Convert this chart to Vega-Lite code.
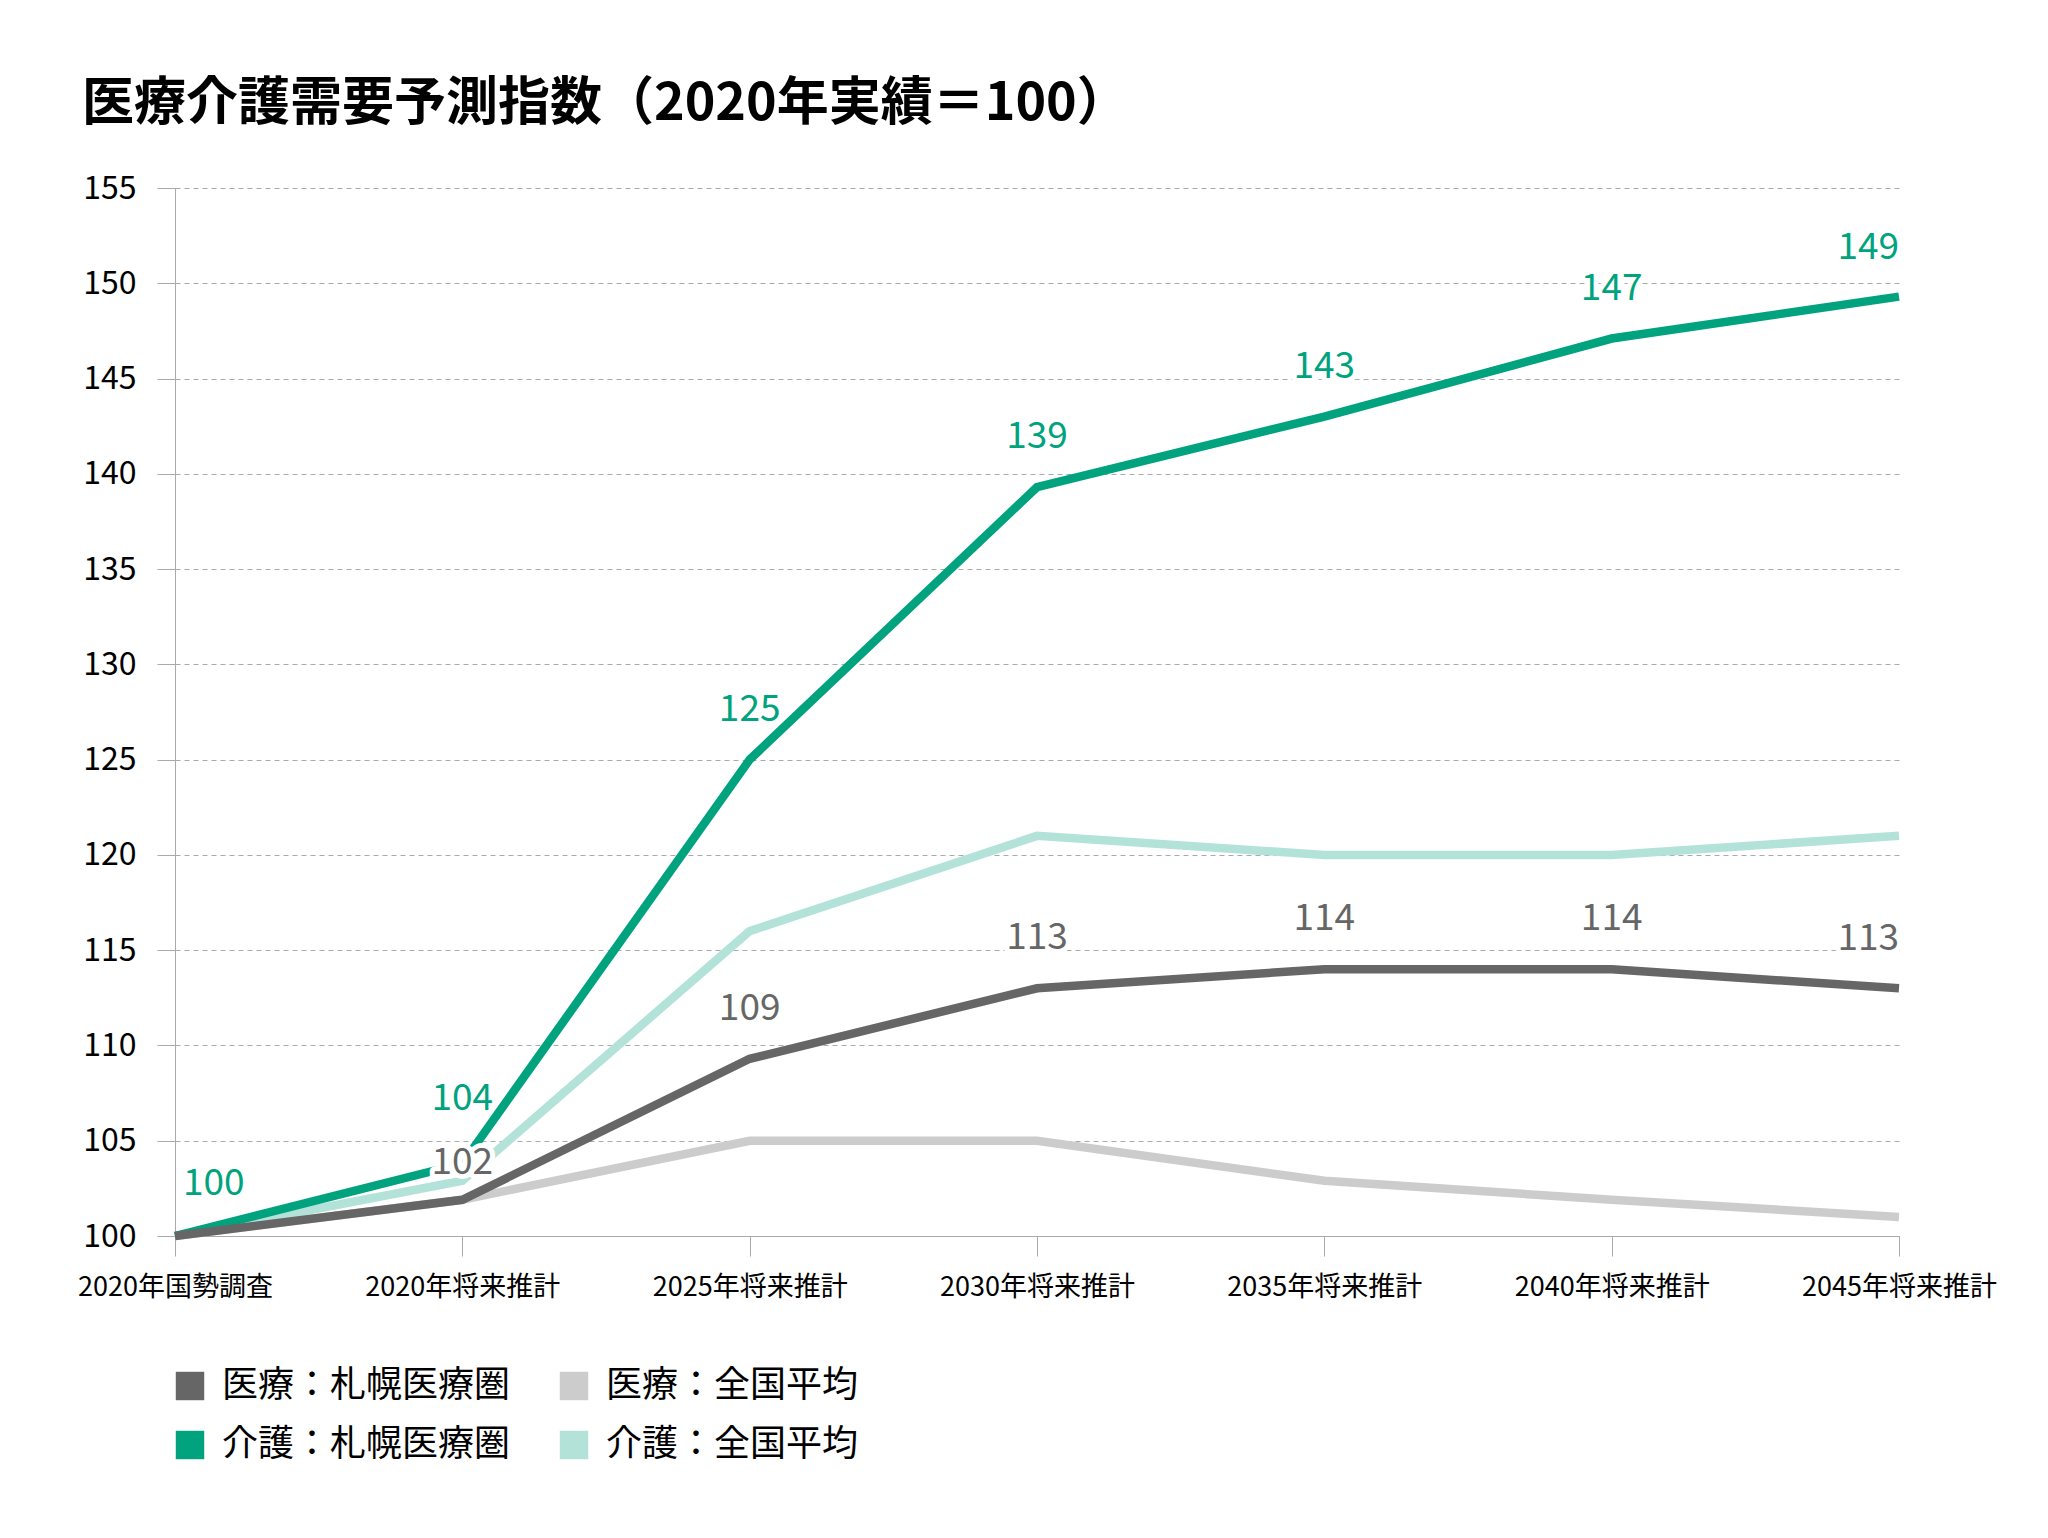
{
  "$schema": "https://vega.github.io/schema/vega-lite/v6.json",
  "width": 1724,
  "height": 1048,
  "autosize": "none",
  "padding": {"left": 175, "top": 188, "right": 149, "bottom": 302},
  "background": "white",
  "title": {
    "text": "医療介護需要予測指数（2020年実績＝100）",
    "anchor": "start",
    "frame": "group",
    "dx": -93,
    "offset": 41,
    "fontSize": 52,
    "fontWeight": "bold",
    "color": "#000000",
    "font": "Noto Sans CJK JP"
  },
  "data": {
    "values": [
      {"s": "医療：全国平均", "x": "2020年国勢調査", "v": 100},
      {"s": "医療：全国平均", "x": "2020年将来推計", "v": 101.9},
      {"s": "医療：全国平均", "x": "2025年将来推計", "v": 105},
      {"s": "医療：全国平均", "x": "2030年将来推計", "v": 105},
      {"s": "医療：全国平均", "x": "2035年将来推計", "v": 102.9},
      {"s": "医療：全国平均", "x": "2040年将来推計", "v": 101.9},
      {"s": "医療：全国平均", "x": "2045年将来推計", "v": 101},
      {"s": "介護：全国平均", "x": "2020年国勢調査", "v": 100},
      {"s": "介護：全国平均", "x": "2020年将来推計", "v": 102.9},
      {"s": "介護：全国平均", "x": "2025年将来推計", "v": 116},
      {"s": "介護：全国平均", "x": "2030年将来推計", "v": 121},
      {"s": "介護：全国平均", "x": "2035年将来推計", "v": 120},
      {"s": "介護：全国平均", "x": "2040年将来推計", "v": 120},
      {"s": "介護：全国平均", "x": "2045年将来推計", "v": 121},
      {"s": "介護：札幌医療圏", "x": "2020年国勢調査", "v": 100},
      {"s": "介護：札幌医療圏", "x": "2020年将来推計", "v": 103.8},
      {"s": "介護：札幌医療圏", "x": "2025年将来推計", "v": 125},
      {"s": "介護：札幌医療圏", "x": "2030年将来推計", "v": 139.3},
      {"s": "介護：札幌医療圏", "x": "2035年将来推計", "v": 143},
      {"s": "介護：札幌医療圏", "x": "2040年将来推計", "v": 147.1},
      {"s": "介護：札幌医療圏", "x": "2045年将来推計", "v": 149.3},
      {"s": "医療：札幌医療圏", "x": "2020年国勢調査", "v": 100},
      {"s": "医療：札幌医療圏", "x": "2020年将来推計", "v": 101.9},
      {"s": "医療：札幌医療圏", "x": "2025年将来推計", "v": 109.3},
      {"s": "医療：札幌医療圏", "x": "2030年将来推計", "v": 113},
      {"s": "医療：札幌医療圏", "x": "2035年将来推計", "v": 114},
      {"s": "医療：札幌医療圏", "x": "2040年将来推計", "v": 114},
      {"s": "医療：札幌医療圏", "x": "2045年将来推計", "v": 113}
    ]
  },
  "encoding": {
    "x": {
      "field": "x",
      "type": "ordinal",
      "sort": null,
      "scale": {"type": "point", "padding": 0},
      "axis": {
        "title": null,
        "labelAngle": 0,
        "labelFontSize": 27,
        "labelLimit": 0,
        "labelColor": "#000000",
        "labelPadding": 18,
        "tickSize": 20,
        "tickColor": "#aaaaaa",
        "domainColor": "#aaaaaa",
        "grid": false
      }
    },
    "y": {
      "field": "v",
      "type": "quantitative",
      "scale": {"domain": [100, 155], "nice": false, "zero": false},
      "axis": {
        "title": null,
        "values": [100, 105, 110, 115, 120, 125, 130, 135, 140, 145, 150, 155],
        "labelFontSize": 32,
        "labelColor": "#000000",
        "labelPadding": 21,
        "tickSize": 18,
        "tickColor": "#aaaaaa",
        "domainColor": "#aaaaaa",
        "gridColor": "#aaaaaa",
        "gridDash": [5, 4]
      }
    }
  },
  "layer": [
    {
      "mark": {"type": "line", "strokeWidth": 8.5},
      "encoding": {
        "color": {
          "field": "s",
          "type": "nominal",
          "scale": {
            "domain": ["医療：札幌医療圏", "介護：札幌医療圏", "医療：全国平均", "介護：全国平均"],
            "range": ["#666666", "#00a37e", "#cccccc", "#b3e3d8"]
          },
          "legend": {
            "title": null,
            "orient": "none",
            "legendX": -3,
            "legendY": 1180,
            "columns": 2,
            "columnPadding": 45,
            "rowPadding": 23,
            "symbolType": "square",
            "symbolSize": 810,
            "symbolStrokeWidth": 0,
            "labelFontSize": 36,
            "labelColor": "#000000",
            "labelOffset": 14,
            "labelLimit": 0,
            "encode": {
              "symbols": {
                "update": {
                  "fill": {"scale": "color", "field": "value"},
                  "opacity": {"value": 1},
                  "strokeWidth": {"value": 0}
                }
              }
            }
          }
        }
      }
    },
    {
      "transform": [
        {"filter": "(datum.s === '介護：札幌医療圏' || datum.s === '医療：札幌医療圏') && datum.x !== '2020年国勢調査' && datum.x !== '2020年将来推計' && datum.x !== '2045年将来推計'"}
      ],
      "encoding": {
        "text": {"field": "v", "type": "quantitative", "format": ".0f"}
      },
      "layer": [
        {"mark": {"type": "text", "fontSize": 37, "dy": -50, "baseline": "middle", "fill": "white", "stroke": "white", "strokeWidth": 10, "strokeJoin": "round"}},
        {
          "mark": {"type": "text", "fontSize": 37, "dy": -50, "baseline": "middle"},
          "encoding": {"color": {"condition": {"test": "datum.s === '介護：札幌医療圏'", "value": "#00a37e"}, "value": "#666666"}}
        }
      ]
    },
    {
      "transform": [
        {"filter": "(datum.s === '介護：札幌医療圏' || datum.s === '医療：札幌医療圏') && datum.x === '2045年将来推計'"}
      ],
      "encoding": {
        "text": {"field": "v", "type": "quantitative", "format": ".0f"}
      },
      "layer": [
        {"mark": {"type": "text", "fontSize": 37, "dy": -49, "align": "right", "baseline": "middle", "fill": "white", "stroke": "white", "strokeWidth": 10, "strokeJoin": "round"}},
        {
          "mark": {"type": "text", "fontSize": 37, "dy": -49, "align": "right", "baseline": "middle"},
          "encoding": {"color": {"condition": {"test": "datum.s === '介護：札幌医療圏'", "value": "#00a37e"}, "value": "#666666"}}
        }
      ]
    },
    {
      "transform": [
        {"filter": "datum.s === '介護：札幌医療圏' && datum.x === '2020年国勢調査'"}
      ],
      "encoding": {
        "text": {"field": "v", "type": "quantitative", "format": ".0f"}
      },
      "layer": [
        {"mark": {"type": "text", "fontSize": 37, "dx": 8, "dy": -52, "align": "left", "baseline": "middle", "fill": "white", "stroke": "white", "strokeWidth": 10, "strokeJoin": "round"}},
        {"mark": {"type": "text", "fontSize": 37, "dx": 8, "dy": -52, "align": "left", "baseline": "middle", "color": "#00a37e"}}
      ]
    },
    {
      "transform": [
        {"filter": "datum.s === '介護：札幌医療圏' && datum.x === '2020年将来推計'"}
      ],
      "encoding": {
        "text": {"field": "v", "type": "quantitative", "format": ".0f"}
      },
      "layer": [
        {"mark": {"type": "text", "fontSize": 37, "dy": -65, "baseline": "middle", "fill": "white", "stroke": "white", "strokeWidth": 10, "strokeJoin": "round"}},
        {"mark": {"type": "text", "fontSize": 37, "dy": -65, "baseline": "middle", "color": "#00a37e"}}
      ]
    },
    {
      "transform": [
        {"filter": "datum.s === '医療：札幌医療圏' && datum.x === '2020年将来推計'"}
      ],
      "encoding": {
        "text": {"field": "v", "type": "quantitative", "format": ".0f"}
      },
      "layer": [
        {"mark": {"type": "text", "fontSize": 37, "dy": -37, "baseline": "middle", "fill": "white", "stroke": "white", "strokeWidth": 10, "strokeJoin": "round"}},
        {"mark": {"type": "text", "fontSize": 37, "dy": -37, "baseline": "middle", "color": "#666666"}}
      ]
    }
  ],
  "config": {
    "font": "Noto Sans CJK JP",
    "view": {"stroke": null},
    "axis": {"labelFont": "Noto Sans CJK JP"},
    "legend": {"labelFont": "Noto Sans CJK JP"}
  }
}
